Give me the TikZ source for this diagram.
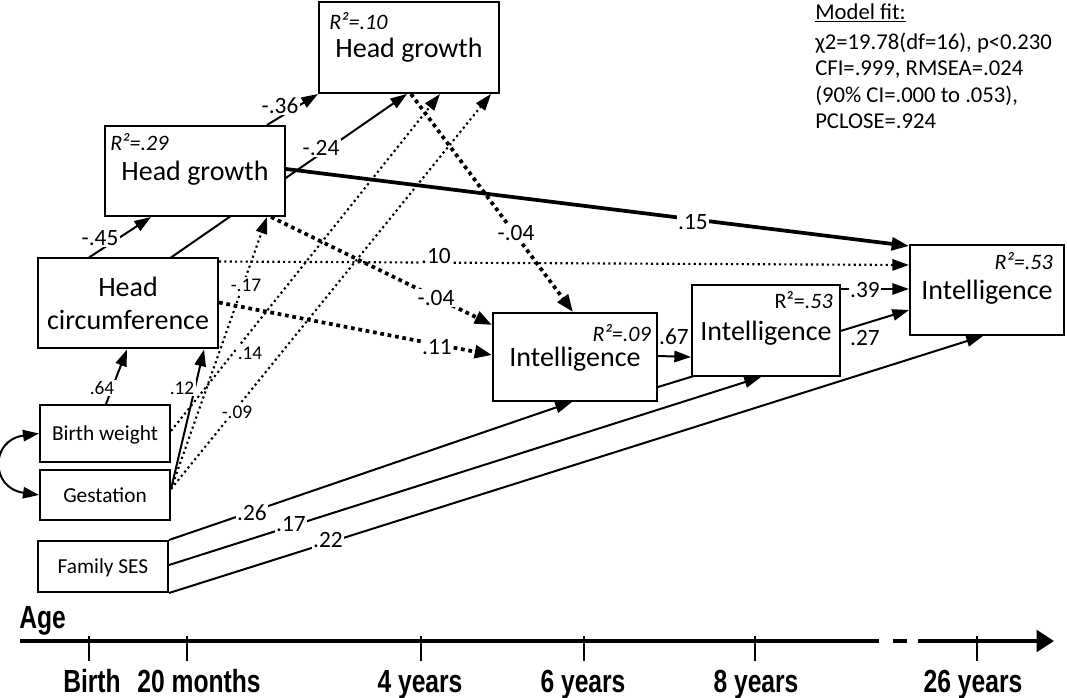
\documentclass[tikz,border=0pt]{standalone}
\usepackage{fontspec}
\usepackage{graphicx}
\setmainfont{Carlito}
\newfontfamily\axisfont{Liberation Sans}
\usetikzlibrary{arrows.meta,calc}
\pgfdeclarelayer{background}
\pgfsetlayers{background,main}
\begin{document}
\begin{tikzpicture}[x=0.75pt,y=-0.75pt,
  box/.style={draw, line width=1.5pt, fill=white, inner sep=0pt, align=center, font=\fontsize{21}{25}\selectfont},
  onebox/.style={box, text height=16.5pt, text depth=2pt},
  smallbox/.style={box, font=\fontsize{16}{19}\selectfont, text height=12.5pt, text depth=2pt},
  rtwo/.style={inner sep=0pt, font=\fontsize{16.5}{19}\selectfont\itshape},
  lab/.style={inner sep=1pt, fill=white, font=\fontsize{17.5}{20}\selectfont},
  slab/.style={inner sep=1pt, fill=white, font=\fontsize{14.5}{17}\selectfont},
  tip/.style={-{Triangle[length=12.5pt,width=8.5pt]}},
  arr/.style={line width=1.5pt, tip},
  thickarr/.style={line width=2.8pt, -{Triangle[length=13pt,width=9.5pt]}},
  dotarr/.style={line width=1.6pt, dash pattern=on 1.6pt off 2.4pt, tip},
  bigdot/.style={line width=2.8pt, dash pattern=on 2.8pt off 2.8pt, -{Triangle[length=13pt,width=9.5pt]}},
  axislab/.style={inner sep=0pt, anchor=base, font=\axisfont\bfseries\fontsize{24}{28}\selectfont},
  tick/.style={line width=2pt}
]
\useasboundingbox (0,0) rectangle (1067,698);

% boxes
\node[onebox, minimum width=135pt, minimum height=68.25pt] (hg2) at (409,47.5) {Head growth};
\node[onebox, minimum width=135pt, minimum height=67.5pt] (hg1) at (195,171) {Head growth};
\node[box, minimum width=135pt, minimum height=67.5pt] (hc) at (128,303.5) {Head\\circumference};
\node[smallbox, minimum width=97.5pt, minimum height=42.75pt] (bw) at (105,433.5) {Birth weight};
\node[smallbox, minimum width=97.5pt, minimum height=37.5pt] (gest) at (105,495) {Gestation};
\node[smallbox, minimum width=97.5pt, minimum height=38.25pt] (ses) at (103,566.5) {Family SES};
\node[onebox, minimum width=123pt, minimum height=66pt] (i6) at (575,357) {Intelligence};
\node[onebox, minimum width=111pt, minimum height=68.25pt] (i8) at (766,330.5) {Intelligence};
\node[onebox, minimum width=115.5pt, minimum height=67.5pt] (i26) at (987,290) {Intelligence};

% R squared
\node[rtwo, anchor=west] (r29) at ($(hg1.north west)+(6,17)$) {R²=.29};
\node[rtwo, anchor=west] (r10) at ($(hg2.north west)+(11,20)$) {R²=.10};
\node[rtwo, anchor=east] (r09) at ($(i6.north east)+(-7,21)$) {R²=.09};
\node[rtwo, anchor=east] (r53a) at ($(i8.north east)+(-8,16)$) {\upshape R²=\itshape.53};
\node[rtwo, anchor=east] (r53b) at ($(i26.north east)+(-12,17)$) {R²=.53};

% model fit
\node[anchor=north west, inner sep=0pt, align=left, font=\fontsize{17}{19.8}\selectfont] (fit) at (815,3)
  {\underline{Model fit:}\\[3pt] χ2=19.78(df=16), p<0.230\\ CFI=.999, RMSEA=.024\\ (90\% CI=.000 to .053),\\ PCLOSE=.924};

\begin{pgfonlayer}{background}
\fill[white] (0,0) rectangle (1067,698);
% connectors
\draw[arr] ($(hc.north west)+(52,0)$) -- ($(hg1.south west)+(47,0)$);
\draw[arr] ($(hg1.north west)+(163,0)$) -- (hg2.south west);
\draw[arr] ($(hc.north west)+(134,0)$) -- ($(hg2.south west)+(89,0)$);
\draw[thickarr] ($(hg1.north east)+(0,44)$) -- ($(i26.north west)+(0,2)$);
\draw[dotarr] ($(hc.north east)+(0,4)$) -- ($(i26.north west)+(0,21)$);
\draw[bigdot] ($(hc.north east)+(0,45)$) -- ($(i6.north west)+(0,43)$);
\draw[bigdot] ($(hg1.south west)+(167,0)$) -- ($(i6.north west)+(0,13)$);
\draw[bigdot] ($(hg2.south west)+(93,0)$) -- ($(i6.north west)+(81,0)$);
\draw[arr] ($(i6.north east)+(0,44)$) -- ($(i8.north west)+(0,73)$);
\draw[arr] ($(i8.north east)+(0,5)$) -- ($(i26.north west)+(0,45)$);
\draw[arr] ($(i6.north east)+(0,75)$) -- ($(i26.north west)+(0,66)$);
\draw[arr] (ses.north east) -- ($(i6.south west)+(80,0)$);
\draw[arr] ($(ses.north east)+(0,25)$) -- ($(i8.south west)+(70,0)$);
\draw[arr] (ses.south east) -- ($(i26.south west)+(74,0)$);
\draw[arr] ($(gest.north east)+(0,20)$) -- ($(hc.south west)+(167,0)$);
\draw[arr] ($(bw.north west)+(67,0)$) -- ($(hc.south west)+(90,0)$);
\draw[dotarr] ($(gest.north east)+(0,20)$) -- ($(hg1.south west)+(163,0)$);
\draw[dotarr] ($(bw.north east)+(0,27)$) -- ($(hg2.south west)+(122,0)$);
\draw[dotarr] ($(gest.north east)+(0,20)$) -- ($(hg2.south west)+(173,0)$);
\draw[line width=1.5pt, {Triangle[length=12pt,width=8.5pt]}-{Triangle[length=12pt,width=8.5pt]}]
  (bw.west) .. controls (-10,440) and (-10,488) .. (gest.west);
\end{pgfonlayer}

% path labels
\node[lab] (l45) at (100,238) {-.45};
\node[lab] (l36) at (280,106) {-.36};
\node[lab] (l24) at (321,148) {-.24};
\node[lab] (l15) at (693,222) {.15};
\node[lab] (l10) at (436,256) {.10};
\node[lab] (l11) at (437,347) {.11};
\node[lab] (l04a) at (436,298) {-.04};
\node[lab] (l04b) at (516,233) {-.04};
\node[lab] (l67) at (674,337) {.67};
\node[lab] (l39) at (865,290) {.39};
\node[lab] (l27) at (865,338) {.27};
\node[lab] (l26) at (252,513) {.26};
\node[lab] (l17) at (291,524) {.17};
\node[lab] (l22) at (328,540) {.22};
\node[slab] (l12) at (182,388) {.12};
\node[slab] (l64) at (102,388) {.64};
\node[slab] (lm17) at (246,285) {-.17};
\node[slab] (l14) at (250,353) {.14};
\node[slab] (l09) at (237,412) {-.09};

% age axis
\coordinate (a0) at (20,641);
\coordinate (a1) at (879,641);
\coordinate (b0) at (893,641);
\coordinate (b1) at (907,641);
\coordinate (c0) at (918,641);
\coordinate (c1) at (1054,641);
\draw[line width=3pt] (a0) -- (a1);
\draw[line width=3pt] (b0) -- (b1);
\draw[line width=3pt, -{Triangle[length=13pt,width=16pt]}] (c0) -- (c1);
\foreach \x in {89,187,421,584,755,977} \draw[tick] (\x,636) -- (\x,661);
\node[axislab, anchor=base west] (age) at (19,628) {\scalebox{0.77}[1]{Age}};
\node[axislab] (t1) at (92,692) {\scalebox{0.77}[1]{Birth}};
\node[axislab] (t2) at (199,692) {\scalebox{0.77}[1]{20 months}};
\node[axislab] (t3) at (420,692) {\scalebox{0.77}[1]{4 years}};
\node[axislab] (t4) at (583,692) {\scalebox{0.77}[1]{6 years}};
\node[axislab] (t5) at (756,692) {\scalebox{0.77}[1]{8 years}};
\node[axislab] (t6) at (973,692) {\scalebox{0.77}[1]{26 years}};
\end{tikzpicture}
\end{document}
